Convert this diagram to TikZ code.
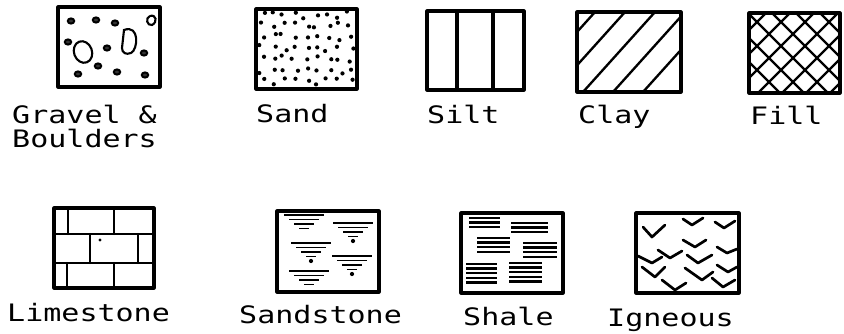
\documentclass[tikz,border=0pt]{standalone}
\usepackage{fontspec}
\usetikzlibrary{calc}
\newfontfamily\plotfont[FakeStretch=1.25]{DejaVu Sans Mono}
\tikzset{
  swatch/.style={draw=black,line width=2.6pt,line join=round},
  hatch/.style={line width=2pt,line cap=round},
  pebble/.style={line width=1.7pt,fill=black!80},
  stone/.style={line width=1.8pt},
  stroke/.style={line width=1.6pt},
  vee/.style={line width=2.3pt,line cap=round,line join=round},
  lbl/.style={anchor=base west,inner sep=0pt,font=\plotfont\fontsize{20.5}{24}\selectfont}
}
% one inverted triangle of sandstone strokes: centre x, top y, with dot (1) or not (0)
\newcommand\sandmark[3]{%
  \foreach \k/\w in {0/20,1/15,2/10,3/5}{\draw[stroke] (#1-\w,#2+4.5*\k) -- (#1+\w,#2+4.5*\k);}
  \ifnum#3=1 \fill (#1,#2+18) circle (1.8pt);\fi
}
% a stack of shale strokes: left x, right x, top y, count
\newcommand\shalemark[4]{%
  \foreach \k in {1,...,#4}{\draw[stroke,line width=2pt] (#1,#3+4.6*\k-4.6) -- (#2,#3+4.6*\k-4.6);}
}
\begin{document}
\begin{tikzpicture}[x=0.03cm,y=-0.03cm]
  \useasboundingbox (0,0) rectangle (844,333);

  % gravel & boulders
  \draw[swatch] (58,7) rectangle (160,87);
  \foreach \px/\py in {71/21,96/20,115/23,68/42,107/48,144/53,98/66,78/74,117/72,145/75}
    \draw[pebble] (\px,\py) ellipse [x radius=3.2,y radius=2.6];
  \draw[stone,rotate around={20:(83,52)}] (83,52) ellipse [x radius=9,y radius=11];
  \draw[stone] (124,30) .. controls (140,24) and (138,50) .. (131,53) .. controls (126,55) and (122,53) .. (122,48) -- cycle;
  \draw[stone] (150,16) .. controls (156,14) and (158,22) .. (152,25) .. controls (147,26) and (145,18) .. (150,16);
  \node[lbl] (gravel) at (12,123) {Gravel \&};
  \node[lbl] (boulders) at (12,147) {Boulders};

  % sand
  \draw[swatch] (256,9) rectangle (357,89);
  \pgfmathsetseed{17}
  \foreach \i in {0,...,8}{
    \foreach \j in {0,...,6}{
      \pgfmathsetmacro\dx{262+11*\i+3.5*rand}
      \pgfmathsetmacro\dy{15+11*\j+3.5*rand}
      \fill (\dx,\dy) circle (1.8pt);
    }
  }
  \node[lbl] (sand) at (256,122) {Sand};

  % silt
  \draw[swatch] (427,11) rectangle (524,90);
  \draw[line width=3.6pt] (457,11) -- (457,90) (493,11) -- (493,90);
  \node[lbl] (silt) at (427,123) {Silt};

  % clay
  \draw[swatch] (577,12) rectangle (681,92);
  \begin{scope}
    \clip (577,12) rectangle (681,92);
    \foreach \i in {0,...,4}
      \draw[hatch] (595+30*\i,12) -- ++(-72,80);
  \end{scope}
  \node[lbl] (clay) at (578,123) {Clay};

  % fill
  \draw[swatch] (749,13) rectangle (840,93);
  \begin{scope}
    \clip (749,13) rectangle (840,93);
    \foreach \i in {0,...,7}{
      \draw[hatch] (700+24*\i,13) -- ++(80,80);
      \draw[hatch] (766+24*\i,13) -- ++(-80,80);
    }
  \end{scope}
  \node[lbl] (fill) at (750,124) {Fill};

  % limestone
  \draw[swatch] (54,208) rectangle (154,288);
  \draw[hatch] (54,234) -- (154,234) (54,263) -- (154,263);
  \draw[hatch] (68,208) -- (68,234) (114,208) -- (114,234)
               (90,234) -- (90,263) (138,234) -- (138,263)
               (67,263) -- (67,288) (114,263) -- (114,288);
  \fill (100,240) circle (1.4pt);
  \node[lbl] (limestone) at (7,321) {Limestone};

  % sandstone
  \draw[swatch] (277,211) rectangle (379,292);
  \sandmark{304}{215}{0}
  \sandmark{353}{223}{1}
  \sandmark{311}{243}{1}
  \sandmark{352}{256}{1}
  \sandmark{309}{271}{0}
  \node[lbl] (sandstone) at (239,323) {Sandstone};

  % shale
  \draw[swatch] (461,213) rectangle (563,293);
  \shalemark{469}{500}{218}{3}
  \shalemark{511}{548}{223}{3}
  \shalemark{477}{510}{238}{4}
  \shalemark{523}{557}{243}{4}
  \shalemark{466}{497}{264}{5}
  \shalemark{509}{542}{263}{5}
  \node[lbl] (shale) at (463,325) {Shale};

  % igneous
  \draw[swatch] (636,213) rectangle (739,293);
  \foreach \ax/\ay/\bx/\by/\cx/\cy in {643/227/652/237/665/225, 683/219/692/225/703/218,
      715/222/724/228/735/221, 683/240/695/247/706/240, 717/247/727/253/737/249,
      638/256/652/263/662/257, 658/250/670/258/682/251, 687/255/698/263/712/255,
      717/265/728/272/737/267, 642/267/655/277/665/267, 685/268/702/280/713/272,
      712/278/723/287/735/280, 662/280/675/290/686/283}
    \draw[vee] (\ax,\ay) -- (\bx,\by) -- (\cx,\cy);
  \node[lbl] (igneous) at (607,326) {Igneous};
\end{tikzpicture}
\end{document}
